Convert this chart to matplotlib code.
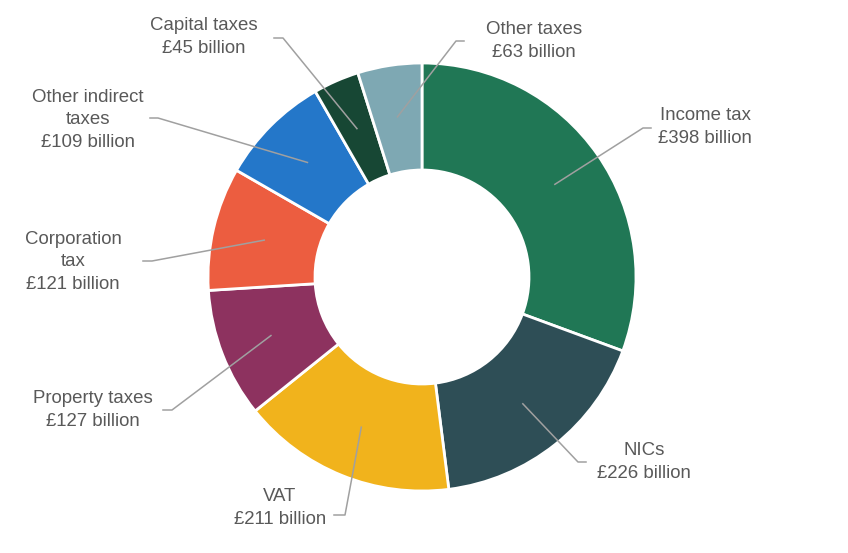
import numpy as np
import matplotlib.pyplot as plt

plt.rcParams['font.family'] = ['Liberation Sans', 'DejaVu Sans']

# Tax receipts, £ billion
names = ['Income tax', 'NICs', 'VAT', 'Property taxes', 'Corporation\ntax',
         'Other indirect\ntaxes', 'Capital taxes', 'Other taxes']
values = [398, 226, 211, 127, 121, 109, 45, 63]
colors = ['#207755', '#2E4E56', '#F1B31C', '#8D325F', '#EC5D40',
          '#2477C9', '#174734', '#7EA8B3']

# label layout in pixels: text centre, knee of leader, end of leader
text_px = [(705, 127), (644, 462), (280, 508), (93, 410), (73, 262),
           (88, 120), (204, 37), (534, 41)]
knee_px = [(643, 128), (578, 462), (345, 515), (172, 410), (152, 261),
           (158, 118), (283, 38), (456, 41)]
end_px = [(651, 128), (586, 462), (334, 515), (163, 410), (143, 261),
          (150, 118), (274, 38), (464, 41)]

W, H = 848, 553
cx, cy, R = 422, 277, 214


def px(p):
    return ((p[0] - cx) / R, (cy - p[1]) / R)


fig = plt.figure(figsize=(W / 100, H / 100), dpi=100)
ax = fig.add_axes([0, 0, 1, 1])
ax.axis('off')

wedges, _ = ax.pie(values, colors=colors, startangle=90, counterclock=False,
                   radius=1.0, wedgeprops=dict(width=0.5, edgecolor='white', linewidth=2))
ax.set_xlim(-cx / R, (W - cx) / R)
ax.set_ylim(-(H - cy) / R, cy / R)
ax.set_aspect('auto')

for i, (name, v) in enumerate(zip(names, values)):
    w = wedges[i]
    ang = np.deg2rad((w.theta1 + w.theta2) / 2)
    sx, sy = 0.757 * np.cos(ang), 0.757 * np.sin(ang)
    kx, ky = px(knee_px[i])
    ex, ey = px(end_px[i])
    ax.plot([sx, kx, ex], [sy, ky, ey], color='#A0A0A0', lw=1.1, zorder=5)
    tx, ty = px(text_px[i])
    ax.text(tx, ty, f'{name}\n£{v} billion', ha='center', va='center',
            fontsize=13.4, color='#595959', linespacing=1.45)

fig.savefig('out.png', dpi=100)
